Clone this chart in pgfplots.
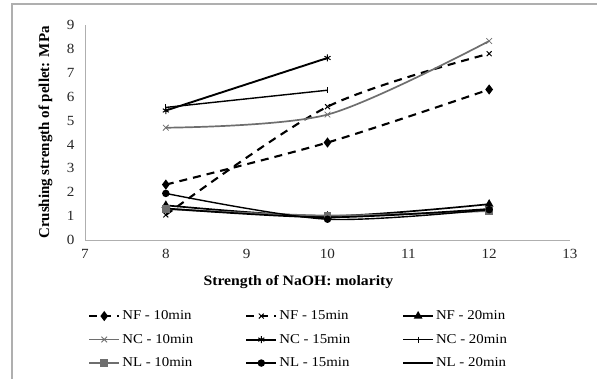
\documentclass[border=0pt]{standalone}
\usepackage{fontspec}
\setmainfont{Liberation Serif}
\usepackage{pgfplots}
\pgfplotsset{compat=1.18}
\definecolor{ggray}{RGB}{110,110,110}
\definecolor{axgray}{RGB}{175,175,175}
\begin{document}
\begin{tikzpicture}[x=1pt,y=1pt]
\useasboundingbox (0,0) rectangle (597,379);
\draw[axgray, line width=1.2pt] (12,-2) -- (12,375) -- (600,375);
\begin{axis}[
  at={(85pt,139pt)}, anchor=south west,
  scale only axis, width=485pt, height=215pt,
  xmin=7, xmax=13, ymin=0, ymax=9,
  xtick={7,...,13}, ytick={0,...,9},
  axis x line=bottom, axis y line=left,
  axis line style={-, axgray, line width=0.8pt},
  major tick length=0pt,
  tick label style={font=\fontsize{14}{15}\selectfont\addfontfeature{FakeStretch=1.08}, text=black!85},
  /pgf/number format/assume math mode=true,
  xticklabel style={yshift=-6pt},
  yticklabel style={xshift=-7pt},
  xlabel={\textbf{Strength of NaOH: molarity}},
  ylabel={\textbf{Crushing strength of pellet: MPa}},
  xlabel style={font=\fontsize{14.3}{15}\selectfont\addfontfeature{FakeStretch=1.1}, at={(axis description cs:0.44,0)}, anchor=north, yshift=-32pt},
  ylabel style={font=\fontsize{15}{16}\selectfont, at={(axis description cs:0,0.5)}, anchor=south, yshift=29pt},
  legend columns=3,
  legend cell align=left,
  legend style={draw=none, fill=none, at={(0.0,-0.31)}, anchor=north west,
    font=\fontsize{13.5}{15}\selectfont\addfontfeature{FakeStretch=1.1}, row sep=9pt,
    /tikz/every odd column/.style={column sep=0pt},
    /tikz/every even column/.style={column sep=50pt}},
  legend image code/.code={\draw[mark repeat=2,mark phase=2,#1] plot coordinates {(0pt,0pt) (15pt,0pt) (30pt,0pt)};},
  every axis plot/.append style={line width=1.7pt, smooth, tension=0.5},
]
% NF - 10min
\addplot[black, line width=2.1pt, dash pattern=on 8pt off 6pt, mark=diamond*, mark size=3.4pt, mark options={solid}] coordinates {(8,2.32) (10,4.08) (12,6.3)};
\addlegendentry{NF - 10min}
% NF - 15min
\addplot[black, line width=2.1pt, dash pattern=on 8pt off 6pt, mark=x, mark size=3.5pt, mark options={solid, line width=1pt}] coordinates {(8,1.05) (10,5.58) (12,7.8)};
\addlegendentry{NF - 15min}
% NF - 20min
\addplot[black, mark=triangle*, mark size=3.4pt] coordinates {(8,1.45) (10,1.0) (12,1.5)};
\addlegendentry{NF - 20min}
% NC - 10min
\addplot[ggray, mark=x, mark size=4pt, mark options={line width=0.8pt}] coordinates {(8,4.7) (10,5.25) (12,8.33)};
\addlegendentry{NC - 10min}
% NC - 15min
\addplot[black, line width=1.9pt, mark=asterisk, mark size=3.5pt, mark options={line width=1pt}] coordinates {(8,5.42) (10,7.62)};
\addlegendentry{NC - 15min}
% NC - 20min
\addplot[black, line width=1.4pt, mark=|, mark size=3pt, mark options={line width=0.7pt}] coordinates {(8,5.55) (10,6.27)};
\addlegendentry{NC - 20min}
% NL - 10min
\addplot[ggray, line width=1.9pt, mark=square*, mark size=3pt] coordinates {(8,1.3) (10,1.02) (12,1.22)};
\addlegendentry{NL - 10min}
% NL - 15min
\addplot[black, line width=1.4pt, mark=*, mark size=3pt] coordinates {(8,1.95) (10,0.87) (12,1.27)};
\addlegendentry{NL - 15min}
% NL - 20min
\addplot[black, line width=1.7pt, mark=none] coordinates {(8,1.32) (10,0.95) (12,1.3)};
\addlegendentry{NL - 20min}
\end{axis}
\end{tikzpicture}
\end{document}
